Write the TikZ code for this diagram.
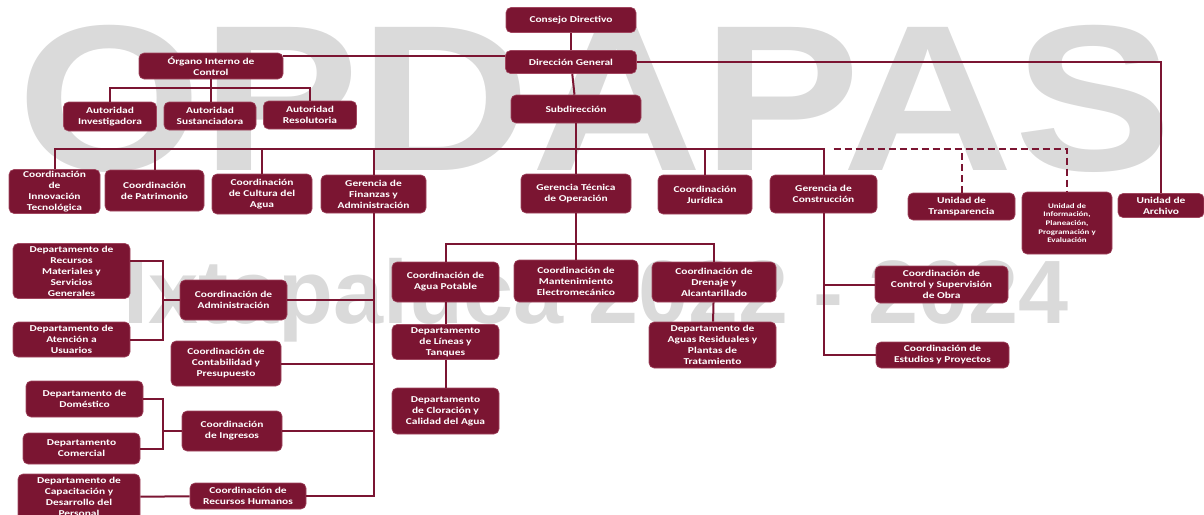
\documentclass[tikz,border=0pt]{standalone}
\usepackage{fontspec}
\usepackage{graphicx}
\setmainfont{Carlito}[FakeStretch=1.27]
\newfontfamily\wmfont{Liberation Sans}
\definecolor{opmaroon}{RGB}{123,21,50}
\definecolor{opedge}{RGB}{160,70,95}
\definecolor{wmgray}{RGB}{218,218,218}

\begin{document}
\begin{tikzpicture}[x=1pt, y=-1pt,
                    unit/.style={rounded corners=5pt, fill=opmaroon, draw=opedge, line width=0.6pt,
                                 text=white, align=center, inner sep=1pt,
                                 font=\fontsize{9}{11}\selectfont\bfseries},
                    boxsize/.style 2 args={minimum width=#1pt, minimum height=#2pt},
                    link/.style={draw=opmaroon, line width=2pt},
                    dotlink/.style={link, dash pattern=on 7pt off 4pt}]

  \useasboundingbox (0,0) rectangle (1204,514);

  % watermark
  \node[anchor=base west, inner sep=0, text=wmgray] (wmtop) at (17,170)
      {\resizebox{1153pt}{145pt}{\wmfont\bfseries OPDAPAS}};
  \node[anchor=base west, inner sep=0, text=wmgray,
        font=\wmfont\bfseries\fontsize{90}{90}\selectfont] (wmbottom) at (123,323)
      {Ixtapaluca 2022 - 2024};

  \node[unit, boxsize={130}{25}] (cd) at (571,20) {Consejo Directivo};
  \node[unit, boxsize={131}{23}] (dg) at (571,62) {Dirección General};
  \node[unit, boxsize={130}{28}] (sub) at (576,109) {Subdirección};

  \node[unit, boxsize={144}{26}] (oic) at (211,66) {Órgano Interno de\\Control};
  \node[unit, boxsize={93}{29}] (ai) at (110,116.5) {Autoridad\\Investigadora};
  \node[unit, boxsize={92}{28}] (as) at (210,116) {Autoridad\\Sustanciadora};
  \node[unit, boxsize={93}{28}] (ar) at (310,115) {Autoridad\\Resolutoria};

  \node[unit, boxsize={91}{44}] (cit) at (54.5,191.5) {Coordinación\\de\\Innovación\\Tecnológica};
  \node[unit, boxsize={99}{41}] (cp) at (154.5,190.5) {Coordinación\\de Patrimonio};
  \node[unit, boxsize={100}{40}] (cca) at (262,194) {Coordinación\\de Cultura del\\Agua};
  \node[unit, boxsize={105}{38}] (gfa) at (373.5,194) {Gerencia de\\Finanzas y\\Administración};
  \node[unit, boxsize={110}{39}] (gto) at (576,193.5) {Gerencia Técnica\\de Operación};
  \node[unit, boxsize={94}{39}] (cj) at (705,194.5) {Coordinación\\Jurídica};
  \node[unit, boxsize={107}{38}] (gc) at (823.5,194) {Gerencia de\\Construcción};
  \node[unit, boxsize={107}{27}] (ut) at (961.5,206.5) {Unidad de\\Transparencia};
  \node[unit, boxsize={90}{62}, font=\fontsize{7}{8.6}\selectfont\bfseries] (uip) at (1067,223)
      {Unidad de\\Información,\\Planeación,\\Programación y\\Evaluación};
  \node[unit, boxsize={86}{24}] (ua) at (1161,205.5) {Unidad de\\Archivo};

  \node[unit, boxsize={117}{55}] (drm) at (71.5,271) {Departamento de\\Recursos\\Materiales y\\Servicios\\Generales};
  \node[unit, boxsize={117}{35}] (dau) at (71.5,339.5) {Departamento de\\Atención a\\Usuarios};
  \node[unit, boxsize={107}{40}] (cad) at (233.5,300) {Coordinación de\\Administración};
  \node[unit, boxsize={110}{45}] (ccp) at (226,363.5) {Coordinación de\\Contabilidad y\\Presupuesto};
  \node[unit, boxsize={117}{36}] (ddo) at (84.5,399) {Departamento de\\Doméstico};
  \node[unit, boxsize={117}{31}] (dco) at (81.5,448.5) {Departamento\\Comercial};
  \node[unit, boxsize={100}{40}] (cin) at (232,431) {Coordinación\\de Ingresos};
  \node[unit, boxsize={122}{46}] (dcap) at (79,497) {Departamento de\\Capacitación y\\Desarrollo del\\Personal};
  \node[unit, boxsize={116}{26}] (crh) at (248,496) {Coordinación de\\Recursos Humanos};

  \node[unit, boxsize={107}{40}] (cap) at (445.5,282) {Coordinación de\\Agua Potable};
  \node[unit, boxsize={124}{42}] (cme) at (576,281) {Coordinación de\\Mantenimiento\\Electromecánico};
  \node[unit, boxsize={124}{40}] (cda) at (714,282) {Coordinación de\\Drenaje y\\Alcantarillado};
  \node[unit, boxsize={107}{35}] (dlt) at (445.5,342) {Departamento\\de Líneas y\\Tanques};
  \node[unit, boxsize={107}{46}] (dcl) at (445.5,411) {Departamento\\de Cloración y\\Calidad del Agua};
  \node[unit, boxsize={127}{46}] (dar) at (712.5,345) {Departamento de\\Aguas Residuales y\\Plantas de\\Tratamiento};

  \node[unit, boxsize={133}{37}] (ccs) at (941.5,284.5) {Coordinación de\\Control y Supervisión\\de Obra};
  \node[unit, boxsize={133}{26}] (cep) at (942.5,355) {Coordinación de\\Estudios y Proyectos};

  \path[link] (cd) edge (dg)
              (dg) edge (sub)
              (sub) edge (gto)
              (gto) edge (cme)
              (cap) edge (dlt)
              (dlt) edge (dcl)
              (cda) edge (dar)
              (dcap) edge (crh);

  \draw[link] ([yshift=6pt]dg.west) -- ([yshift=6pt]dg.west -| oic.east);
  \draw[link] (dg.east) -| (ua.north);
  \draw[link] (oic.south) -- (oic.south |- as.north);
  \draw[link] (ai.north) -- ++(0,-14) -| (ar.north);

  \draw[link] (cit.north) -- ++(0,-20) coordinate (bus) -| (gc.north);
  \foreach \n in {cp,cca,gfa,cj}
    \draw[link] (\n.north) -- (\n.north |- bus);
  \draw[dotlink] ([xshift=10pt]gc.north |- bus) -| (uip.north);
  \draw[dotlink] (ut.north) -- (ut.north |- bus);

  \draw[link] (gfa.south) |- (crh.east);
  \foreach \n in {cad,ccp,cin}
    \draw[link] (\n.east) -- (\n.east -| gfa.south);
  \draw[link] ([yshift=10pt]drm.east) -| ([xshift=-17pt]cad.west) |- (dau.east)
              ([xshift=-17pt]cad.west) -- (cad.west);
  \draw[link] (ddo.east) -| ([xshift=-19pt]cin.west) |- (dco.east)
              ([xshift=-19pt]cin.west) -- (cin.west);

  \draw[link] (cap.north) -- ++(0,-18) -| (cda.north);
  \draw[link] (gc.south) |- (cep.west);
  \draw[link] (ccs.west) -- (ccs.west -| gc.south);

\end{tikzpicture}
\end{document}
